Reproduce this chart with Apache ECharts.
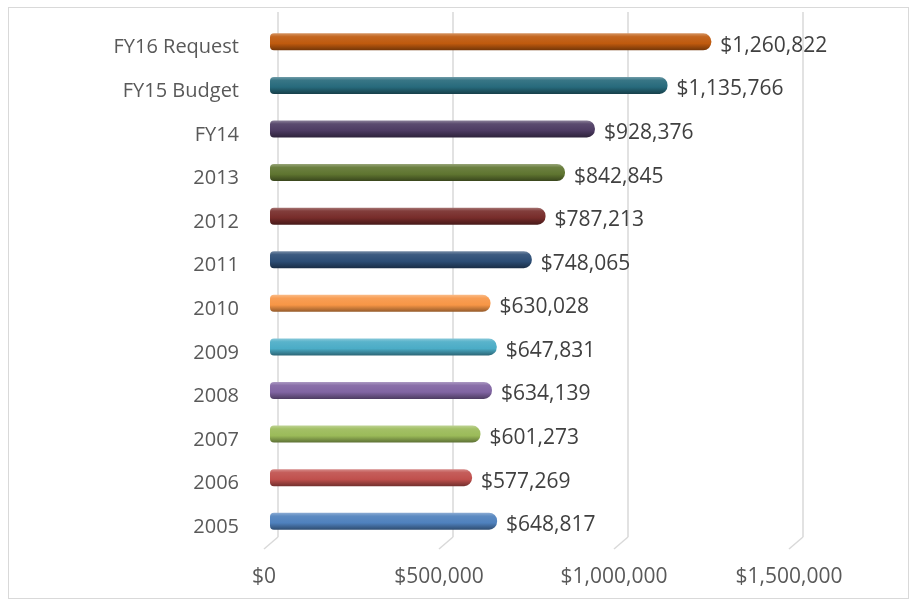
<!DOCTYPE html>
<html>
<head>
<meta charset="utf-8">
<title>Budget by year</title>
<script src="https://cdn.jsdelivr.net/npm/echarts@6/dist/echarts.min.js"></script>
<style>
  html, body { margin: 0; padding: 0; background: #fff; }
  #chart { position: absolute; left: 0; top: 0; width: 911px; height: 600px; }
  #frame { position: absolute; left: 8px; top: 7px; width: 899px; height: 590px; border: 1px solid #d9d9d9; pointer-events: none; }
</style>
</head>
<body>
<div id="chart"></div>
<div id="frame"></div>
<script>
// categories bottom to top
var years = ['2005', '2006', '2007', '2008', '2009', '2010', '2011', '2012', '2013', 'FY14', 'FY15 Budget', 'FY16 Request'];
var amounts = [648817, 577269, 601273, 634139, 647831, 630028, 748065, 787213, 842845, 928376, 1135766, 1260822];
var barColors = ['#4f81bd', '#c0504d', '#9bbb59', '#8064a2', '#4bacc6', '#f79646',
                 '#2c4d75', '#772c2a', '#5f7530', '#4d3b62', '#276a7c', '#bf5a0e'];
var xTicks = [0, 500000, 1000000, 1500000];

var font = '"Open Sans", "Liberation Sans", sans-serif';

function shade(hex, amt) {
    // amt > 0 lighter, amt < 0 darker
    var n = parseInt(hex.slice(1), 16);
    var c = [(n >> 16) & 255, (n >> 8) & 255, n & 255].map(function(v) {
        v = amt > 0 ? v + (255 - v) * amt : v * (1 + amt);
        return Math.round(v);
    });
    return 'rgb(' + c.join(',') + ')';
}

function tube(hex) {
    return new echarts.graphic.LinearGradient(0, 0, 0, 1, [
        {offset: 0, color: shade(hex, 0.35)},
        {offset: 0.2, color: shade(hex, 0.08)},
        {offset: 0.6, color: hex},
        {offset: 1, color: shade(hex, -0.4)}
    ]);
}

function money(v) {
    return '$' + String(v).replace(/\B(?=(\d{3})+(?!\d))/g, ',');
}

var chart = echarts.init(document.getElementById('chart'));

var option = {
    animation: false,
    grid: [
        {left: 270, right: 116, top: 20, bottom: 57},
        // back wall, only carries the gridlines
        {left: 278, right: 108, top: 12, bottom: 63}
    ],
    xAxis: [{
        type: 'value',
        gridIndex: 0,
        min: 0, max: 1500000, interval: 500000,
        axisLine: {show: false},
        axisTick: {show: false},
        splitLine: {show: false},
        axisLabel: {
            margin: 24,
            padding: [0, 12, 0, 0],
            color: '#595959',
            fontFamily: font,
            fontSize: 21,
            formatter: function(v) { return xTicks.indexOf(v) >= 0 ? money(v) : ''; }
        }
    }, {
        type: 'value',
        gridIndex: 1,
        min: 0, max: 1500000, interval: 500000,
        axisLine: {show: false},
        axisTick: {show: false},
        axisLabel: {show: false},
        splitLine: {show: true, lineStyle: {color: '#d9d9d9', width: 1.5}}
    }],
    yAxis: [{
        type: 'category',
        gridIndex: 0,
        data: years,
        axisLine: {show: false},
        axisTick: {show: false},
        axisLabel: {
            margin: 31,
            verticalAlign: 'top',
            lineHeight: 12,
            color: '#595959',
            fontFamily: font,
            fontSize: 20
        }
    }, {
        type: 'value',
        gridIndex: 1,
        min: 0, max: 1,
        show: false
    }],
    series: [{
        // floor edge of the back wall: short slanted foot under each gridline
        type: 'custom',
        xAxisIndex: 1,
        yAxisIndex: 1,
        silent: true,
        data: xTicks,
        renderItem: function(params, api) {
            var p = api.coord([api.value(0), 0]);
            return {
                type: 'polyline',
                shape: {points: [p, [p[0] - 14, p[1] + 12]]},
                style: {stroke: '#d9d9d9', lineWidth: 1.5, fill: null}
            };
        },
        z: 1
    }, {
        type: 'bar',
        xAxisIndex: 0,
        yAxisIndex: 0,
        barWidth: 17,
        z: 3,
        data: amounts.map(function(v, i) {
            return {
                value: v,
                itemStyle: {
                    color: tube(barColors[i]),
                    borderRadius: [4, 8, 8, 4]
                }
            };
        }),
        label: {
            show: true,
            position: 'right',
            distance: 9,
            offset: [0, 4],
            color: '#404040',
            fontFamily: font,
            fontSize: 21,
            formatter: function(p) { return money(p.value); }
        }
    }]
};

chart.setOption(option);
</script>
</body>
</html>
